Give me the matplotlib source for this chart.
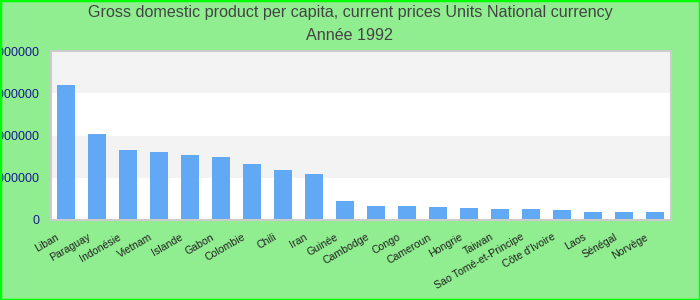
import matplotlib
matplotlib.use("Agg")
import matplotlib.pyplot as plt
from matplotlib.patches import Rectangle
from matplotlib.transforms import ScaledTranslation, blended_transform_factory

plt.rcParams['font.family'] = ['Liberation Sans', 'DejaVu Sans']

categories = ["Liban", "Paraguay", "Indonésie", "Vietnam", "Islande", "Gabon",
              "Colombie", "Chili", "Iran", "Guinée", "Cambodge", "Congo",
              "Cameroun", "Hongrie", "Taiwan", "Sao Tomé-et-Principe",
              "Côte d'Ivoire", "Laos", "Sénégal", "Norvège"]
values = [3195000, 2035000, 1657000, 1610000, 1540000, 1490000,
          1325000, 1180000, 1090000, 450000, 330000, 330000,
          310000, 284000, 260000, 260000,
          237000, 190000, 190000, 190000]
yticks = [0, 1000000, 2000000, 3000000, 4000000]
title = "Gross domestic product per capita, current prices Units National currency\nAnnée 1992"

fig = plt.figure(figsize=(7, 3), dpi=100, facecolor='#90EE90')
fig.patches.append(Rectangle((0, 0), 1, 1, transform=fig.transFigure,
                             fill=False, edgecolor='#00ff00', linewidth=2.5, zorder=10))
ax = fig.add_axes([50.5/700, 1 - 220/300, 620/700, 169/300])
ax.set_facecolor('white')

ax.set_ylim(0, 4000000)
ax.set_xlim(-0.5, len(categories) - 0.5)
for i in range(len(yticks) - 1):
    if i % 2 == 1:
        ax.axhspan(yticks[i], yticks[i + 1], color='#f3f3f3', zorder=0, linewidth=0)

xs = list(range(len(categories)))
ax.bar(xs, values, width=0.55, color='#62a9f5', zorder=2)

ax.set_yticks(yticks)
ax.set_yticklabels([str(v) for v in yticks], fontsize=9, color='#1a1a8c')
ax.set_xticks(xs)
ax.set_xticklabels([])
tr = blended_transform_factory(ax.transData, ax.transAxes) + \
    ScaledTranslation(-10/100, -12/100, fig.dpi_scale_trans)
for x, lab in zip(xs, categories):
    ax.text(x, 0, lab, transform=tr, rotation=30, ha='right', va='top',
            rotation_mode='anchor', fontsize=7.6, color='#222222', clip_on=False)
ax.tick_params(axis='y', length=0, pad=8)
ax.tick_params(axis='x', length=0)
for s in ax.spines.values():
    s.set_color('#cccccc')
    s.set_linewidth(1.5)

fig.text(0.5, 1 - 24/300, title, ha='center', va='center', fontsize=11.6,
         color='#444444', linespacing=1.7)

fig.savefig('out.png', dpi=100, facecolor=fig.get_facecolor())
